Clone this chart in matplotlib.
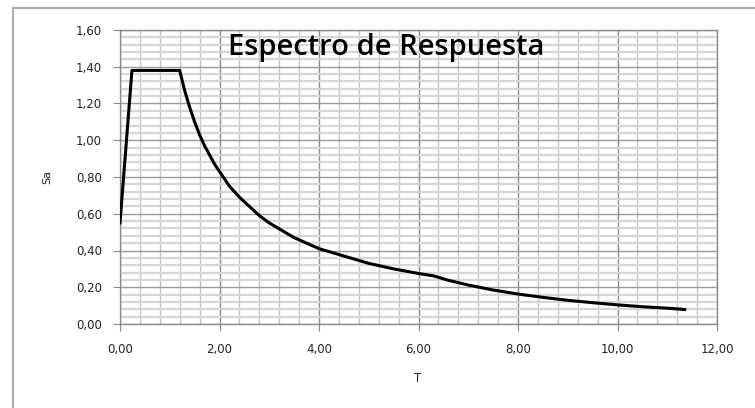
import matplotlib
matplotlib.use('Agg')
import matplotlib.pyplot as plt
import numpy as np
from matplotlib.lines import Line2D
from matplotlib.ticker import MultipleLocator, FuncFormatter

# espectro de respuesta
T = [0.00, 0.24, 1.20, 1.30, 1.40, 1.50, 1.60, 1.70, 1.80, 1.90, 2.00,
     2.10, 2.20, 2.40, 2.60, 2.80, 3.00, 3.25, 3.50, 3.75, 4.00, 4.50, 5.00,
     5.50, 6.00, 6.30, 6.60, 7.00, 7.50, 8.00, 8.50, 9.00, 9.50, 10.00,
     10.50, 11.00, 11.35]
Sa = [0.55, 1.38, 1.38, 1.27, 1.18, 1.10, 1.03, 0.97, 0.92, 0.87, 0.83,
      0.79, 0.75, 0.69, 0.64, 0.59, 0.55, 0.51, 0.47, 0.44, 0.41, 0.37, 0.33,
      0.30, 0.275, 0.262, 0.238, 0.212, 0.185, 0.163, 0.145, 0.129, 0.116,
      0.104, 0.094, 0.086, 0.079]

fig = plt.figure(figsize=(7.55, 4.08), dpi=100)
ax = fig.add_axes([120/755, 1-324/408, (717-120)/755, (324-30)/408])

ax.plot(T, Sa, color='black', lw=2.2, zorder=5)

ax.set_xlim(0, 12)
ax.set_ylim(0, 1.6)
ax.xaxis.set_major_locator(MultipleLocator(2))
ax.xaxis.set_minor_locator(MultipleLocator(0.4))
ax.yaxis.set_major_locator(MultipleLocator(0.2))
ax.yaxis.set_minor_locator(MultipleLocator(0.04))
fmt = FuncFormatter(lambda v, p: ('%.2f' % v).replace('.', ','))
ax.xaxis.set_major_formatter(fmt)
ax.yaxis.set_major_formatter(fmt)

ax.grid(which='minor', axis='y', color='#d6d6d6', lw=1.6)
ax.grid(which='minor', axis='x', color='#c4c4c4', lw=1.0)
ax.grid(which='major', axis='y', color='#9a9a9a', lw=1.0)
ax.grid(which='major', axis='x', color='#8a8a8a', lw=1.0)
ax.set_axisbelow(True)
for s in ax.spines.values():
    s.set_color('#8a8a8a')
    s.set_linewidth(1.0)

ax.tick_params(which='minor', length=0)
ax.tick_params(which='major', length=5, color='#8a8a8a', labelsize=8.5,
               labelcolor='#222222')
ax.tick_params(axis='y', pad=8)
ax.tick_params(axis='x', pad=9)

fig.text(47/755, 1-177/408, 'Sa', rotation=90, ha='center', va='center',
         fontsize=8, color='#222222')
fig.text(418/755, 1-378/408, 'T', ha='center', va='center',
         fontsize=8.5, color='#222222')
fig.text(386/755, 1-55/408, 'Espectro de Respuesta', ha='center', va='baseline',
         fontsize=21, family='Open Sans', weight='semibold', color='black',
         zorder=10)

# marco exterior del grafico
fig.add_artist(Line2D([13/755, 13/755], [0, 1-8/408], color='#b0b0b0', lw=1.5))
fig.add_artist(Line2D([13/755, 1], [1-8/408, 1-8/408], color='#b0b0b0', lw=1.5))

plt.savefig('out.png', dpi=100)
